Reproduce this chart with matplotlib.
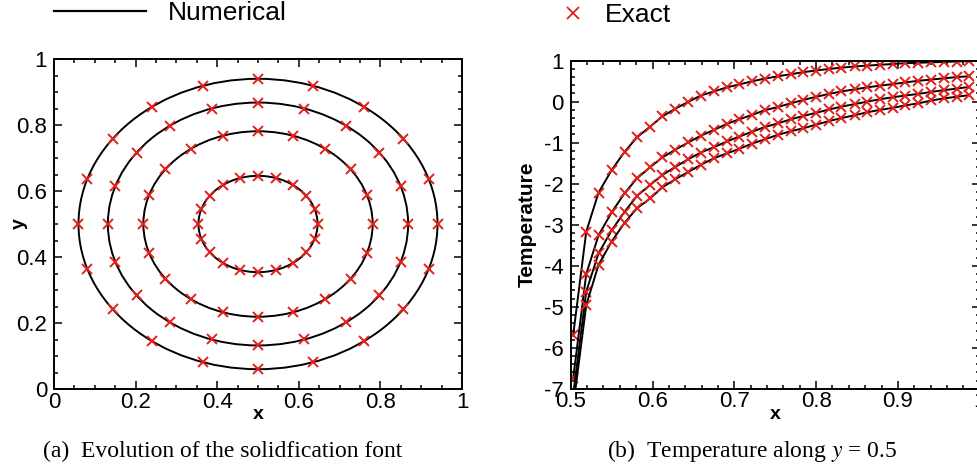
import numpy as np
import matplotlib.pyplot as plt
from matplotlib.patches import Circle
from matplotlib.ticker import MultipleLocator

plt.rcParams['font.family'] = ['Liberation Sans', 'DejaVu Sans']
plt.rcParams['axes.unicode_minus'] = False
plt.rcParams['mathtext.fontset'] = 'stix'

# (a) solidification fronts, all centred at (0.5, 0.5)
front_center = (0.5, 0.5)
front_radii = [0.44, 0.368, 0.281, 0.146]
exact_angles_deg = [0, 18, 36, 54, 72, 90, 108, 126, 144, 162,
                    180, 198, 216, 234, 252, 270, 288, 306, 324, 342]

# (b) temperature along y = 0.5
x_nodes = [0.503, 0.519, 0.534, 0.550, 0.566, 0.581, 0.597, 0.612,
           0.628, 0.644, 0.659, 0.675, 0.691, 0.706, 0.722, 0.737,
           0.753, 0.769, 0.784, 0.800, 0.816, 0.831, 0.847, 0.862,
           0.878, 0.894, 0.909, 0.925, 0.941, 0.956, 0.972, 0.987]
temp_1 = [-5.70, -3.17, -2.22, -1.67, -1.22, -0.87, -0.61, -0.36,
          -0.17, 0.00, 0.15, 0.25, 0.35, 0.42, 0.50, 0.56,
          0.62, 0.67, 0.72, 0.76, 0.80, 0.83, 0.86, 0.88,
          0.90, 0.92, 0.94, 0.95, 0.96, 0.97, 0.98, 0.99]
temp_2 = [-6.75, -4.20, -3.26, -2.70, -2.23, -1.87, -1.60, -1.36,
          -1.17, -0.99, -0.83, -0.69, -0.54, -0.43, -0.32, -0.21,
          -0.13, -0.04, 0.04, 0.12, 0.19, 0.25, 0.30, 0.35,
          0.39, 0.43, 0.47, 0.51, 0.54, 0.57, 0.60, 0.62]
temp_3 = [-7.15, -4.63, -3.70, -3.14, -2.68, -2.30, -2.03, -1.79,
          -1.59, -1.40, -1.24, -1.11, -0.97, -0.85, -0.73, -0.62,
          -0.53, -0.43, -0.35, -0.27, -0.19, -0.12, -0.06, 0.00,
          0.06, 0.11, 0.15, 0.19, 0.24, 0.28, 0.32, 0.36]
temp_4 = [-7.45, -4.96, -3.98, -3.41, -2.95, -2.60, -2.36, -2.09,
          -1.89, -1.71, -1.54, -1.38, -1.26, -1.15, -1.02, -0.92,
          -0.81, -0.72, -0.65, -0.56, -0.47, -0.40, -0.33, -0.26,
          -0.20, -0.15, -0.09, -0.04, 0.03, 0.08, 0.12, 0.16]

mark_red = '#e3201b'
tick_fs = 16


def style_axes(ax):
    ax.tick_params(which='both', direction='in', top=True, right=True,
                   labelsize=tick_fs, width=1.1)
    ax.tick_params(which='major', length=6)
    ax.tick_params(which='minor', length=3)
    ax.tick_params(axis='x', pad=2)
    ax.tick_params(axis='y', pad=5)
    for s in ax.spines.values():
        s.set_linewidth(1.4)


fig = plt.figure(figsize=(9.77, 4.76), dpi=100)

# left panel
ax1 = fig.add_axes([54 / 977, 1 - 389 / 476, 408 / 977, 330 / 476])
ang = np.deg2rad(exact_angles_deg)
for r in front_radii:
    ax1.add_patch(Circle(front_center, r, fill=False, color='black', lw=1.4))
    ax1.plot(front_center[0] + r * np.cos(ang), front_center[1] + r * np.sin(ang),
             'x', color=mark_red, ms=7, mew=1.4)
ax1.set_xlim(0, 1)
ax1.set_ylim(0, 1)
ax1.xaxis.set_major_locator(MultipleLocator(0.2))
ax1.xaxis.set_minor_locator(MultipleLocator(0.05))
ax1.yaxis.set_major_locator(MultipleLocator(0.2))
ax1.yaxis.set_minor_locator(MultipleLocator(0.05))
ax1.xaxis.set_major_formatter(plt.FuncFormatter(lambda v, p: f'{v:g}'))
ax1.yaxis.set_major_formatter(plt.FuncFormatter(lambda v, p: f'{v:g}'))
style_axes(ax1)
ax1.set_xlabel('x', fontsize=14, fontweight='bold')
ax1.set_ylabel('y', fontsize=14, fontweight='bold')
ax1.xaxis.set_label_coords(0.5, -0.052)
ax1.yaxis.set_label_coords(-0.064, 0.5)

# right panel (runs past the right edge of the picture)
ax2 = fig.add_axes([570.7 / 977, 1 - 388.7 / 476, 409 / 977, 328 / 476])
for t in [temp_1, temp_2, temp_3, temp_4]:
    ax2.plot(x_nodes, t, '-', color='black', lw=1.4)
    ax2.plot(x_nodes, t, 'x', color=mark_red, ms=7, mew=1.4)
ax2.set_xlim(0.5, 1)
ax2.set_ylim(-7, 1)
ax2.xaxis.set_major_locator(MultipleLocator(0.1))
ax2.xaxis.set_minor_locator(MultipleLocator(0.02))
ax2.yaxis.set_major_locator(MultipleLocator(1))
ax2.yaxis.set_minor_locator(MultipleLocator(0.2))
ax2.xaxis.set_major_formatter(plt.FuncFormatter(lambda v, p: f'{v:g}'))
ax2.yaxis.set_major_formatter(plt.FuncFormatter(lambda v, p: f'{v:g}'))
style_axes(ax2)
ax2.set_xlabel('x', fontsize=14, fontweight='bold')
ax2.set_ylabel('Temperature', fontsize=15, fontweight='bold')
ax2.xaxis.set_label_coords(0.5, -0.053)
ax2.yaxis.set_label_coords(-0.082, 0.5)

# legend row across the top
num_line, = ax1.plot([], [], '-', color='black', lw=1.6)
ex_mark, = ax1.plot([], [], 'x', color=mark_red, ms=9, mew=1.3)
fig.legend([num_line], ['Numerical'], loc='center left',
           bbox_to_anchor=(54 / 977, 1 - 13 / 476), frameon=False,
           fontsize=19, handlelength=3.5, handletextpad=0.8,
           borderpad=0, borderaxespad=0)
fig.legend([ex_mark], ['Exact'], loc='center left',
           bbox_to_anchor=(560 / 977, 1 - 15 / 476), frameon=False,
           fontsize=19, handlelength=1.0, handletextpad=0.7,
           borderpad=0, borderaxespad=0)

# sub-captions
fig.text(223 / 977, 1 - 451 / 476, '(a)  Evolution of the solidfication font',
         ha='center', va='center', fontsize=17, family='Liberation Serif')
fig.text(752 / 977, 1 - 451 / 476, '(b)  Temperature along $y$ = 0.5',
         ha='center', va='center', fontsize=17, family='Liberation Serif')

fig.savefig('out.png', dpi=100)
